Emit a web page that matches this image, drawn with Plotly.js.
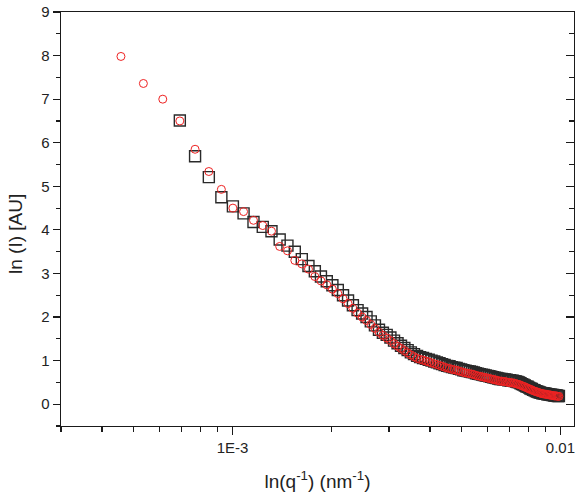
<!DOCTYPE html>
<html>
<head>
<meta charset="utf-8">
<script src="https://cdn.plot.ly/plotly-3.0.1.min.js"></script>
<style>
html,body{margin:0;padding:0;background:#fff;}
#chart{width:579px;height:501px;}
</style>
</head>
<body>
<div id="chart"></div>
<script>
// q values (nm^-1)
const q = [0.000457,0.000535,0.000613,0.000691,0.000769,0.000847,0.000925,
0.001003,0.001081,0.001159,0.001237,0.001315,0.001393,0.001471,0.001549,0.001627,0.001705,0.001783,0.001861,0.001939,
0.002017,0.002095,0.002173,0.002251,0.002329,0.002407,0.002485,0.002563,0.002641,0.002719,0.002797,0.002875,0.002953,
0.003031,0.003109,0.003187,0.003265,0.003343,0.003421,0.003499,0.003577,0.003655,0.003733,0.003811,0.003889,0.003967,
0.004045,0.004123,0.004201,0.004279,0.004357,0.004435,0.004513,0.004591,0.004669,0.004747,0.004825,0.004903,0.004981,
0.005059,0.005137,0.005215,0.005293,0.005371,0.005449,0.005527,0.005605,0.005683,0.005761,0.005839,0.005917,0.005995,
0.006073,0.006151,0.006229,0.006307,0.006385,0.006463,0.006541,0.006619,0.006697,0.006775,0.006853,0.006931,
0.007009,0.007087,0.007165,0.007243,0.007321,0.007399,0.007477,0.007555,0.007633,0.007711,0.007789,0.007867,0.007945,
0.008023,0.008101,0.008179,0.008257,0.008335,0.008413,0.008491,0.008569,0.008647,0.008725,0.008803,0.008881,0.008959,
0.009037,0.009115,0.009193,0.009271,0.009349,0.009427,0.009505,0.009583,0.009661,0.009739,0.009817,0.009895];

// black open squares
const lnI_squares = [null,null,null,6.51,5.69,5.21,4.75,4.54,4.38,4.18,
4.07,3.97,3.78,3.64,3.50,3.33,3.17,3.05,2.93,2.82,
2.73,2.62,2.50,2.38,2.27,2.16,2.08,2.00,1.90,1.81,
1.71,1.64,1.59,1.53,1.46,1.40,1.34,1.29,1.24,1.19,
1.15,1.11,1.08,1.06,1.04,1.02,1.00,0.98,0.96,0.94,
0.92,0.90,0.88,0.87,0.85,0.84,0.83,0.81,0.80,0.78,
0.77,0.76,0.75,0.74,0.73,0.71,0.70,0.69,0.68,0.67,
0.66,0.65,0.64,0.63,0.62,0.61,0.60,0.59,0.58,0.58,
0.57,0.57,0.56,0.55,0.55,0.54,0.54,0.53,0.52,0.51,
0.50,0.48,0.46,0.45,0.43,0.41,0.40,0.38,0.36,0.35,
0.33,0.32,0.30,0.29,0.28,0.27,0.26,0.25,0.25,0.24,
0.24,0.23,0.23,0.22,0.22,0.21,0.21,0.20,0.20,0.20,
0.19,0.19];

// red open circles
const lnI_circles = [7.98,7.36,7.00,6.50,5.85,5.34,4.93,4.50,4.42,4.22,
4.10,3.97,3.62,3.52,3.30,3.22,3.10,2.93,2.83,2.74,
2.64,2.54,2.42,2.31,2.20,2.09,2.00,1.92,1.83,1.74,
1.65,1.58,1.52,1.46,1.39,1.33,1.28,1.23,1.18,1.13,
1.09,1.05,1.03,1.01,0.99,0.97,0.95,0.93,0.91,0.89,
0.87,0.85,0.83,0.82,0.80,0.79,0.78,0.76,0.75,0.73,
0.72,0.71,0.70,0.69,0.68,0.66,0.65,0.64,0.63,0.62,
0.61,0.60,0.59,0.58,0.57,0.56,0.55,0.54,0.53,0.53,
0.52,0.52,0.51,0.50,0.50,0.49,0.49,0.48,0.47,0.46,
0.45,0.44,0.42,0.41,0.40,0.38,0.37,0.35,0.34,0.33,
0.31,0.30,0.29,0.28,0.27,0.26,0.25,0.24,0.24,0.23,
0.23,0.22,0.22,0.21,0.21,0.20,0.20,0.19,0.19,0.19,
0.18,0.18];

const xTickVals = [0.001, 0.01];
const xTickText = ['1E-3', '0.01'];
const xMinorVals = [0.0003,0.0004,0.0005,0.0006,0.0007,0.0008,0.0009,0.002,0.003,0.004,0.005,0.006,0.007,0.008,0.009];
const xRange = [0.0003, 0.011];
const yRange = [-0.5, 9];
const xTitle = 'ln(q<sup>-1</sup>) (nm<sup>-1</sup>)';
const yTitle = 'ln (I) [AU]';

const font = 'Liberation Sans, Arial, sans-serif';
const axColor = '#1a1a1a';
const txtColor = '#222';

const traces = [
  {
    x: q, y: lnI_squares, type: 'scatter', mode: 'markers',
    marker: {symbol: 'square-open', size: 11, color: '#2a2a2a', line: {width: 1.4, color: '#2a2a2a'}},
    showlegend: false, hoverinfo: 'x+y'
  },
  {
    x: q, y: lnI_circles, type: 'scatter', mode: 'markers',
    marker: {symbol: 'circle-open', size: 8, color: '#ee2222', line: {width: 1, color: '#ee2222'}},
    showlegend: false, hoverinfo: 'x+y'
  },
  {
    x: [xRange[0]], y: [null], yaxis: 'y2', type: 'scatter', mode: 'markers',
    showlegend: false, hoverinfo: 'skip'
  }
];

const layout = {
  width: 579, height: 501,
  margin: {l: 61, r: 5, t: 12, b: 75},
  paper_bgcolor: '#fff', plot_bgcolor: '#fff',
  font: {family: font, color: txtColor, size: 15},
  showlegend: false,
  xaxis: {
    type: 'log',
    range: [Math.log10(xRange[0]), Math.log10(xRange[1])],
    tickmode: 'array', tickvals: xTickVals, ticktext: xTickText,
    ticks: 'outside', ticklen: 8, tickwidth: 1.2, tickcolor: axColor,
    minor: {tickmode: 'array', tickvals: xMinorVals, ticks: 'outside', ticklen: 5, tickwidth: 1.2, tickcolor: axColor, showgrid: false},
    showline: true, linecolor: axColor, linewidth: 1.3, mirror: true,
    showgrid: false, zeroline: false,
    tickfont: {size: 15, family: font, color: txtColor},
    title: {text: xTitle, font: {size: 19, family: font, color: txtColor}, standoff: 19}
  },
  yaxis: {
    range: yRange,
    tickmode: 'linear', tick0: 0, dtick: 1,
    ticks: 'outside', ticklen: 7, tickwidth: 1.2, tickcolor: axColor,
    minor: {dtick: 0.5, tick0: 0, ticks: 'outside', ticklen: 4, tickwidth: 1.2, tickcolor: axColor, showgrid: false},
    showline: true, linecolor: axColor, linewidth: 1.3,
    showgrid: false, zeroline: false,
    tickfont: {size: 15, family: font, color: txtColor}
  },
  yaxis2: {
    overlaying: 'y', side: 'right', anchor: 'x',
    range: yRange,
    tickmode: 'linear', tick0: 0, dtick: 1,
    ticks: 'inside', ticklen: 8, tickwidth: 1.2, tickcolor: axColor,
    minor: {dtick: 0.5, tick0: 0, ticks: 'inside', ticklen: 5, tickwidth: 1.2, tickcolor: axColor, showgrid: false},
    showticklabels: false,
    showline: true, linecolor: axColor, linewidth: 1.3,
    showgrid: false, zeroline: false
  },
  annotations: [{
    text: yTitle, textangle: -90,
    xref: 'paper', yref: 'paper',
    x: -0.0877, y: 0.4638, xanchor: 'center', yanchor: 'middle',
    showarrow: false,
    font: {size: 19, family: font, color: txtColor}
  }]
};

Plotly.newPlot('chart', traces, layout, {displayModeBar: false, staticPlot: true});
</script>
</body>
</html>
